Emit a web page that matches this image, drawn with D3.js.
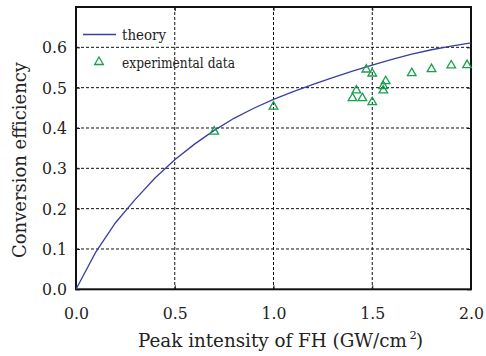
<!DOCTYPE html>
<html><head><meta charset="utf-8">
<script src="https://cdn.jsdelivr.net/npm/d3@7/dist/d3.min.js"></script>
<style>body{margin:0;background:#fff}svg{display:block}text{font-family:"DejaVu Serif",serif;fill:#222}</style>
</head><body><svg id="c" width="486" height="356"></svg>
<script>
// Theory curve
const theoryX = [0,0.1,0.2,0.3,0.4,0.5,0.6,0.7,0.8,0.9,1.0,1.1,1.2,1.3,1.4,1.5,1.6,1.7,1.8,1.9,2.0];
const theoryY = [0,0.092,0.165,0.223,0.276,0.321,0.360,0.394,0.424,0.449,0.471,0.490,0.508,0.525,0.541,0.556,0.570,0.583,0.594,0.603,0.611];
// Experimental data
const expX = [0.70,1.00,1.40,1.42,1.45,1.47,1.50,1.50,1.556,1.556,1.568,1.70,1.80,1.90,1.98];
const expY = [0.391,0.453,0.474,0.493,0.474,0.545,0.535,0.464,0.493,0.504,0.516,0.536,0.546,0.555,0.556];
const xTicks = [0,0.5,1.0,1.5,2.0];
const yTicks = [0,0.1,0.2,0.3,0.4,0.5,0.6];
const legendLabels = ["theory","experimental data"];
const xTitle = "Peak intensity of FH (GW/cm";
const yTitle = "Conversion efficiency";

const svg = d3.select("#c");
const L=76,R=471,T=7,B=289.3;
const x = d3.scaleLinear().domain([0,2]).range([L,R]);
const y = d3.scaleLinear().domain([0,0.7]).range([B,T]);
const lineCol="#3a3f9e", triCol="#17a04e";

function squeeze(sel, w){ const n=sel.node(); const cur=n.getComputedTextLength(); if(cur>w){ sel.attr("textLength",w).attr("lengthAdjust","spacingAndGlyphs"); } else { const fs=parseFloat(sel.attr("font-size")); sel.attr("font-size", fs*w/cur);} }

// grid
const g = svg.append("g");
g.selectAll(".gx").data(xTicks.filter(d=>d>0&&d<2)).join("line")
  .attr("x1",d=>x(d)).attr("x2",d=>x(d)).attr("y1",T).attr("y2",B)
  .attr("stroke","#111").attr("stroke-width",1).attr("stroke-dasharray","3,2");
g.selectAll(".gy").data(yTicks.filter(d=>d>0)).join("line")
  .attr("y1",d=>y(d)).attr("y2",d=>y(d)).attr("x1",L).attr("x2",R)
  .attr("stroke","#111").attr("stroke-width",1).attr("stroke-dasharray","3,2");

// axes (ticks inward)
const ax = svg.append("g").attr("transform",`translate(0,${B})`)
  .call(d3.axisBottom(x).tickValues(xTicks).tickFormat(d3.format(".1f")).tickSizeInner(-4).tickSizeOuter(0).tickPadding(17));
const ay = svg.append("g").attr("transform",`translate(${L},0)`)
  .call(d3.axisLeft(y).tickValues(yTicks).tickFormat(d3.format(".1f")).tickSizeInner(-4).tickSizeOuter(0).tickPadding(9));
svg.append("g").attr("transform",`translate(${R},0)`)
  .call(d3.axisRight(y).tickValues(yTicks).tickFormat("").tickSizeInner(-4).tickSizeOuter(0));
svg.append("g").attr("transform",`translate(0,${T})`)
  .call(d3.axisTop(x).tickValues(xTicks).tickFormat("").tickSizeInner(-4).tickSizeOuter(0));
svg.selectAll(".domain").remove();
svg.selectAll(".tick line").attr("stroke","#111");
svg.selectAll(".tick text").attr("font-family","DejaVu Serif").attr("font-size",17.5).attr("fill","#222")
  .attr("textLength",25).attr("lengthAdjust","spacingAndGlyphs");
ax.selectAll(".tick text").attr("dy","0.71em");

// frame
svg.append("rect").attr("x",L).attr("y",T).attr("width",R-L).attr("height",B-T)
  .attr("fill","none").attr("stroke","#111").attr("stroke-width",2);

// theory line
const pts = theoryX.map((d,i)=>[d,theoryY[i]]);
svg.append("path").datum(pts).attr("fill","none").attr("stroke",lineCol).attr("stroke-width",1.3)
  .attr("d",d3.line().x(d=>x(d[0])).y(d=>y(d[1])));

// triangles
const tri = d3.symbol().type(d3.symbolTriangle).size(32);
svg.selectAll(".tri").data(expX.map((d,i)=>[d,expY[i]])).join("path")
  .attr("d",tri).attr("transform",d=>`translate(${x(d[0])},${y(d[1])})`)
  .attr("fill","none").attr("stroke",triCol).attr("stroke-width",1.3);

// legend
svg.append("line").attr("x1",83).attr("x2",116).attr("y1",34.5).attr("y2",34.5).attr("stroke",lineCol).attr("stroke-width",1.3);
const t1=svg.append("text").attr("x",122).attr("y",40).attr("font-size",15.5).text(legendLabels[0]); squeeze(t1,44);
svg.append("path").attr("d",tri).attr("transform","translate(99,62)").attr("fill","none").attr("stroke",triCol).attr("stroke-width",1.3);
const t2=svg.append("text").attr("x",122).attr("y",68).attr("font-size",15.5).text(legendLabels[1]); squeeze(t2,113);

// axis titles
const xt = svg.append("text").attr("x",138).attr("y",346.5).attr("font-size",18).text(xTitle);
squeeze(xt,269);
svg.append("text").attr("x",409.5).attr("y",338.5).attr("font-size",11.5).text("2");
svg.append("text").attr("x",416).attr("y",346.5).attr("font-size",18).text(")");
const yt = svg.append("text").attr("transform","translate(26,160) rotate(-90)").attr("text-anchor","middle").attr("font-size",18).text(yTitle);
squeeze(yt,196);
</script></body></html>
